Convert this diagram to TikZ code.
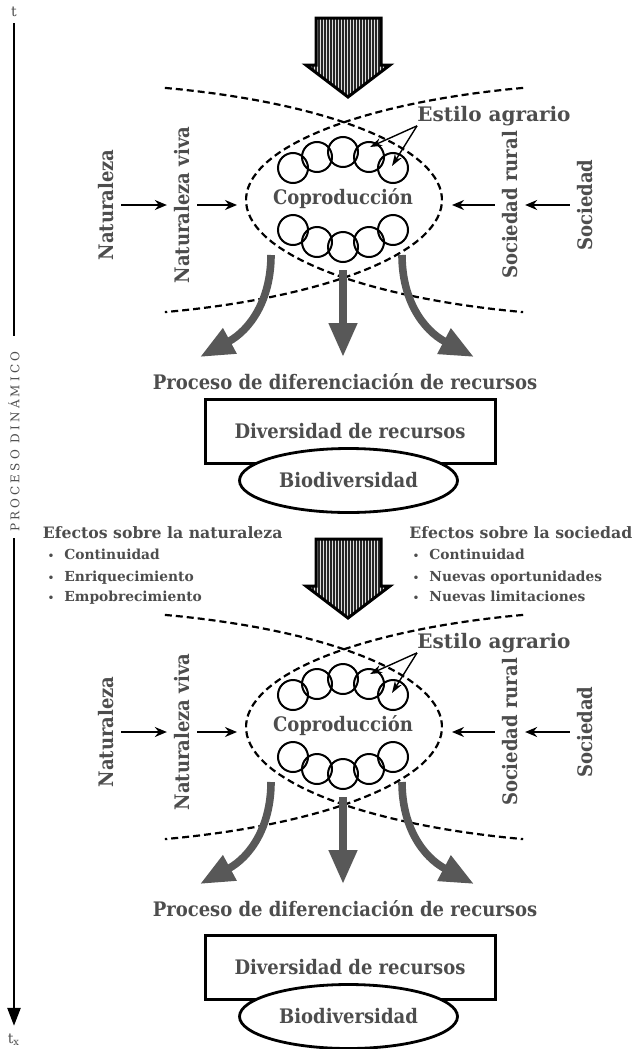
\documentclass[tikz,border=0pt]{standalone}
\usepackage{fontspec}
\setmainfont{DejaVu Serif}
\newfontfamily\labfont{DejaVu Serif}[FakeStretch=0.9]
\newfontfamily\dynfont{DejaVu Serif}[LetterSpace=26]
\usetikzlibrary{shapes.geometric, arrows.meta}
\definecolor{txtgray}{HTML}{4D4D4D}
\definecolor{arrgray}{HTML}{585858}
\newcommand{\itm}[1]{\makebox[8.25pt][l]{\tiny\textbullet}#1}

\begin{document}
\begin{tikzpicture}[x=0.5pt,y=-0.5pt]
\tikzstyle{lbl}=[text=txtgray,font=\labfont\fontsize{10}{12}\selectfont\bfseries,inner sep=0pt]
\tikzstyle{vlbl}=[lbl,rotate=90,inner sep=3.5pt]
\tikzstyle{thin}=[text=txtgray,font=\fontsize{10}{12}\selectfont,inner sep=0pt]
\tikzstyle{head}=[text=txtgray,font=\fontsize{7.85}{10}\selectfont\bfseries,anchor=base west,inner sep=0pt]
\tikzstyle{item}=[text=txtgray,font=\fontsize{6.9}{9}\selectfont\bfseries,anchor=base west,inner sep=0pt]
\tikzstyle{ring}=[circle,draw,line width=1pt,minimum size=15pt,inner sep=0pt]
\tikzstyle{cut}=[dash pattern=on 3.5pt off 2pt,line width=1.1pt]
\tikzstyle{flow}=[draw=arrgray,line width=3.8pt,-{Triangle[length=17pt,width=13.5pt]}]
\tikzstyle{feed}=[line width=0.8pt,-{Stealth[length=6pt,width=5pt]}]
\tikzstyle{stripe}=[line width=0.6pt,black!85]
\useasboundingbox (0,0) rectangle (634,1049);

% eje del tiempo
\node[thin,font=\fontsize{7}{8}\selectfont] (t0) at (14,12) {t};
\node[text=txtgray,font=\dynfont\fontsize{6}{7}\selectfont,rotate=90,inner sep=0pt] (dyn) at (14,441.7) {PROCESO DINÁMICO};
\node[thin,font=\fontsize{7}{8}\selectfont] (t1) at (14,1040) {t\textsubscript{x}};
\draw[line width=1.3pt,shorten <=3pt,shorten >=7.5pt] (t0) -- (dyn);
\draw[line width=1.3pt,shorten <=3pt,shorten >=4pt,-{Triangle[length=9pt,width=6.5pt]}] (dyn) -- (t1);

% los dos ciclos
\foreach \dy/\db/\ha/\s in {0/0/18/a,527/536/539/b}{
  % flecha rayada
  \begin{scope}
    \clip (316,\ha) -- (381,\ha) -- (381,\ha+47) -- (390,\ha+47) -- (348,\ha+79) -- (306,\ha+47) -- (316,\ha+47) -- cycle;
    \fill[gray!25] (300,\ha) rectangle (400,\ha+80);
    \foreach \x in {307,310,...,390} \draw[stripe] (\x,\ha) -- (\x,\ha+80);
  \end{scope}
  \draw[line width=1.5pt] (316,\ha) -- (381,\ha) -- (381,\ha+47) -- (390,\ha+47) -- (348,\ha+79) -- (306,\ha+47) -- (316,\ha+47) -- cycle;
  % coproduccion
  \draw[cut] plot[domain=-73.4:73.4,samples=60] ({54+388*cos(\x)},{\dy+200+117*sin(\x)});
  \draw[cut] plot[domain=-73.4:73.4,samples=60] ({634-388*cos(\x)},{\dy+200+117*sin(\x)});
  \foreach \cx/\ct/\cb [count=\i] in {293/168/230,317/157/242,343/152/247,369/157/242,393/168/230}{
    \node[ring] (up\s\i) at (\cx,\dy+\ct) {};
    \node[ring] (lo\s\i) at (\cx,\dy+\cb) {};
  }
  \node[lbl,anchor=base] (cop\s) at (343,\dy+204) {Coproducción};
  \node[lbl,font=\fontsize{10}{12}\selectfont\bfseries,anchor=base west] (est\s) at (417,\dy+121) {Estilo agrario};
  \coordinate (ea\s) at (370,\dy+147);
  \coordinate (eb\s) at (392,\dy+166);
  \draw[line width=0.7pt,-{Stealth[length=6pt,width=4pt]}] (est\s.south west) -- (ea\s);
  \draw[line width=0.7pt,-{Stealth[length=6pt,width=4pt]}] (est\s.south west) -- (eb\s);
  % entradas
  \node[vlbl] (nat\s) at (106,\dy+205) {Naturaleza};
  \node[vlbl] (viv\s) at (182,\dy+205) {Naturaleza viva};
  \node[vlbl] (rur\s) at (510,\dy+205) {Sociedad rural};
  \node[vlbl] (soc\s) at (585,\dy+205) {Sociedad};
  \coordinate (cl\s) at (237,\dy+205);
  \coordinate (cr\s) at (452,\dy+205);
  \draw[feed] (nat\s) -- (viv\s);
  \draw[feed] (viv\s) -- (cl\s);
  \draw[feed] (soc\s) -- (rur\s);
  \draw[feed] (rur\s) -- (cr\s);
  % salidas
  \coordinate (oa\s) at (271,\dy+255);
  \coordinate (ob\s) at (343,\dy+270);
  \coordinate (oc\s) at (402,\dy+255);
  \coordinate (pa\s) at (200,\dy+357);
  \coordinate (pb\s) at (343,\dy+357);
  \coordinate (pc\s) at (474,\dy+357);
  \draw[flow] (oa\s) .. controls (271,\dy+300) and (250,\dy+330) .. (pa\s);
  \draw[flow] (ob\s) -- (pb\s);
  \draw[flow] (oc\s) .. controls (402,\dy+300) and (423,\dy+330) .. (pc\s);
  \node[lbl,anchor=base] (pro\s) at (345,\dy+389) {Proceso de diferenciación de recursos};
  \node[lbl,draw=black,line width=1.5pt,minimum width=145pt,minimum height=32pt] (div\s) at (350,\db+431) {Diversidad de recursos};
  \node[lbl,ellipse,draw=black,fill=white,line width=1.4pt,minimum width=109pt,minimum height=32pt] (bio\s) at (348.5,\db+480.5) {Biodiversidad};
}

% efectos
\node[head] (efn) at (42.5,538.3) {Efectos sobre la naturaleza};
\node[item] (en1) at (47.5,559.3) {\itm{Continuidad}};
\node[item] (en2) at (47.5,581) {\itm{Enriquecimiento}};
\node[item] (en3) at (47.5,601.7) {\itm{Empobrecimiento}};
\node[head] (efs) at (409,538.3) {Efectos sobre la sociedad};
\node[item] (es1) at (412.5,559.3) {\itm{Continuidad}};
\node[item] (es2) at (412.5,581) {\itm{Nuevas oportunidades}};
\node[item] (es3) at (412.5,601.7) {\itm{Nuevas limitaciones}};
\end{tikzpicture}
\end{document}
